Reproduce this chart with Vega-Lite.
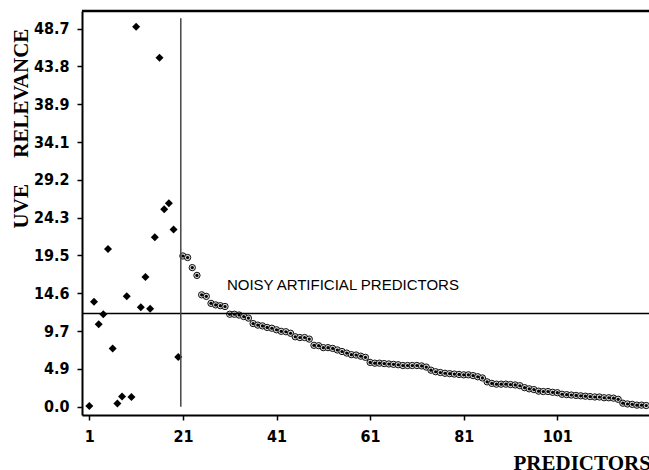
{
  "$schema": "https://vega.github.io/schema/vega-lite/v6.json",
  "width": 600,
  "height": 404,
  "autosize": {"type": "none"},
  "padding": {"left": 82, "top": 11, "right": 0, "bottom": 55},
  "background": "white",
  "config": {
    "view": {"stroke": null},
    "axis": {
      "grid": false,
      "domainColor": "black",
      "domainWidth": 2,
      "tickColor": "black",
      "tickWidth": 1.5,
      "tickSize": 5,
      "labelFont": "Liberation Sans Narrow, Arial Narrow, DejaVu Sans Condensed, Liberation Sans",
      "labelFontWeight": "bold",
      "labelFontSize": 16,
      "labelColor": "black",
      "titleFont": "Liberation Serif",
      "titleFontWeight": "bold",
      "titleFontSize": 21,
      "titleColor": "black"
    }
  },
  "datasets": {
    "pts": [
      {"predictor": 1, "relevance": 0.1, "group": "real"},
      {"predictor": 2, "relevance": 13.5, "group": "real"},
      {"predictor": 3, "relevance": 10.6, "group": "real"},
      {"predictor": 4, "relevance": 11.9, "group": "real"},
      {"predictor": 5, "relevance": 20.3, "group": "real"},
      {"predictor": 6, "relevance": 7.5, "group": "real"},
      {"predictor": 7, "relevance": 0.4, "group": "real"},
      {"predictor": 8, "relevance": 1.3, "group": "real"},
      {"predictor": 9, "relevance": 14.2, "group": "real"},
      {"predictor": 10, "relevance": 1.25, "group": "real"},
      {"predictor": 11, "relevance": 48.9, "group": "real"},
      {"predictor": 12, "relevance": 12.8, "group": "real"},
      {"predictor": 13, "relevance": 16.7, "group": "real"},
      {"predictor": 14, "relevance": 12.6, "group": "real"},
      {"predictor": 15, "relevance": 21.8, "group": "real"},
      {"predictor": 16, "relevance": 44.9, "group": "real"},
      {"predictor": 17, "relevance": 25.4, "group": "real"},
      {"predictor": 18, "relevance": 26.2, "group": "real"},
      {"predictor": 19, "relevance": 22.8, "group": "real"},
      {"predictor": 20, "relevance": 6.4, "group": "real"},
      {"predictor": 21, "relevance": 19.4, "group": "noise"},
      {"predictor": 22, "relevance": 19.2, "group": "noise"},
      {"predictor": 23, "relevance": 17.9, "group": "noise"},
      {"predictor": 24, "relevance": 16.9, "group": "noise"},
      {"predictor": 25, "relevance": 14.4, "group": "noise"},
      {"predictor": 26, "relevance": 14.2, "group": "noise"},
      {"predictor": 27, "relevance": 13.3, "group": "noise"},
      {"predictor": 28, "relevance": 13.1, "group": "noise"},
      {"predictor": 29, "relevance": 13.0, "group": "noise"},
      {"predictor": 30, "relevance": 12.9, "group": "noise"},
      {"predictor": 31, "relevance": 11.9, "group": "noise"},
      {"predictor": 32, "relevance": 11.9, "group": "noise"},
      {"predictor": 33, "relevance": 11.8, "group": "noise"},
      {"predictor": 34, "relevance": 11.6, "group": "noise"},
      {"predictor": 35, "relevance": 11.4, "group": "noise"},
      {"predictor": 36, "relevance": 10.7, "group": "noise"},
      {"predictor": 37, "relevance": 10.5, "group": "noise"},
      {"predictor": 38, "relevance": 10.4, "group": "noise"},
      {"predictor": 39, "relevance": 10.2, "group": "noise"},
      {"predictor": 40, "relevance": 10.1, "group": "noise"},
      {"predictor": 41, "relevance": 9.9, "group": "noise"},
      {"predictor": 42, "relevance": 9.7, "group": "noise"},
      {"predictor": 43, "relevance": 9.65, "group": "noise"},
      {"predictor": 44, "relevance": 9.45, "group": "noise"},
      {"predictor": 45, "relevance": 9.0, "group": "noise"},
      {"predictor": 46, "relevance": 8.9, "group": "noise"},
      {"predictor": 47, "relevance": 8.9, "group": "noise"},
      {"predictor": 48, "relevance": 8.7, "group": "noise"},
      {"predictor": 49, "relevance": 7.9, "group": "noise"},
      {"predictor": 50, "relevance": 7.85, "group": "noise"},
      {"predictor": 51, "relevance": 7.6, "group": "noise"},
      {"predictor": 52, "relevance": 7.6, "group": "noise"},
      {"predictor": 53, "relevance": 7.5, "group": "noise"},
      {"predictor": 54, "relevance": 7.3, "group": "noise"},
      {"predictor": 55, "relevance": 7.1, "group": "noise"},
      {"predictor": 56, "relevance": 6.9, "group": "noise"},
      {"predictor": 57, "relevance": 6.7, "group": "noise"},
      {"predictor": 58, "relevance": 6.65, "group": "noise"},
      {"predictor": 59, "relevance": 6.5, "group": "noise"},
      {"predictor": 60, "relevance": 6.35, "group": "noise"},
      {"predictor": 61, "relevance": 5.7, "group": "noise"},
      {"predictor": 62, "relevance": 5.6, "group": "noise"},
      {"predictor": 63, "relevance": 5.6, "group": "noise"},
      {"predictor": 64, "relevance": 5.55, "group": "noise"},
      {"predictor": 65, "relevance": 5.5, "group": "noise"},
      {"predictor": 66, "relevance": 5.45, "group": "noise"},
      {"predictor": 67, "relevance": 5.4, "group": "noise"},
      {"predictor": 68, "relevance": 5.3, "group": "noise"},
      {"predictor": 69, "relevance": 5.3, "group": "noise"},
      {"predictor": 70, "relevance": 5.3, "group": "noise"},
      {"predictor": 71, "relevance": 5.3, "group": "noise"},
      {"predictor": 72, "relevance": 5.25, "group": "noise"},
      {"predictor": 73, "relevance": 5.1, "group": "noise"},
      {"predictor": 74, "relevance": 4.7, "group": "noise"},
      {"predictor": 75, "relevance": 4.5, "group": "noise"},
      {"predictor": 76, "relevance": 4.4, "group": "noise"},
      {"predictor": 77, "relevance": 4.3, "group": "noise"},
      {"predictor": 78, "relevance": 4.25, "group": "noise"},
      {"predictor": 79, "relevance": 4.2, "group": "noise"},
      {"predictor": 80, "relevance": 4.15, "group": "noise"},
      {"predictor": 81, "relevance": 4.1, "group": "noise"},
      {"predictor": 82, "relevance": 4.1, "group": "noise"},
      {"predictor": 83, "relevance": 4.0, "group": "noise"},
      {"predictor": 84, "relevance": 3.85, "group": "noise"},
      {"predictor": 85, "relevance": 3.7, "group": "noise"},
      {"predictor": 86, "relevance": 3.2, "group": "noise"},
      {"predictor": 87, "relevance": 3.0, "group": "noise"},
      {"predictor": 88, "relevance": 2.9, "group": "noise"},
      {"predictor": 89, "relevance": 2.9, "group": "noise"},
      {"predictor": 90, "relevance": 2.9, "group": "noise"},
      {"predictor": 91, "relevance": 2.85, "group": "noise"},
      {"predictor": 92, "relevance": 2.8, "group": "noise"},
      {"predictor": 93, "relevance": 2.7, "group": "noise"},
      {"predictor": 94, "relevance": 2.45, "group": "noise"},
      {"predictor": 95, "relevance": 2.3, "group": "noise"},
      {"predictor": 96, "relevance": 2.2, "group": "noise"},
      {"predictor": 97, "relevance": 2.0, "group": "noise"},
      {"predictor": 98, "relevance": 1.95, "group": "noise"},
      {"predictor": 99, "relevance": 1.95, "group": "noise"},
      {"predictor": 100, "relevance": 1.85, "group": "noise"},
      {"predictor": 101, "relevance": 1.8, "group": "noise"},
      {"predictor": 102, "relevance": 1.6, "group": "noise"},
      {"predictor": 103, "relevance": 1.55, "group": "noise"},
      {"predictor": 104, "relevance": 1.5, "group": "noise"},
      {"predictor": 105, "relevance": 1.45, "group": "noise"},
      {"predictor": 106, "relevance": 1.4, "group": "noise"},
      {"predictor": 107, "relevance": 1.35, "group": "noise"},
      {"predictor": 108, "relevance": 1.3, "group": "noise"},
      {"predictor": 109, "relevance": 1.25, "group": "noise"},
      {"predictor": 110, "relevance": 1.25, "group": "noise"},
      {"predictor": 111, "relevance": 1.15, "group": "noise"},
      {"predictor": 112, "relevance": 1.15, "group": "noise"},
      {"predictor": 113, "relevance": 1.1, "group": "noise"},
      {"predictor": 114, "relevance": 0.95, "group": "noise"},
      {"predictor": 115, "relevance": 0.45, "group": "noise"},
      {"predictor": 116, "relevance": 0.35, "group": "noise"},
      {"predictor": 117, "relevance": 0.3, "group": "noise"},
      {"predictor": 118, "relevance": 0.2, "group": "noise"},
      {"predictor": 119, "relevance": 0.2, "group": "noise"},
      {"predictor": 120, "relevance": 0.15, "group": "noise"}
    ],
    "cutoff": [{"level": 12.0}],
    "frame": [{"top": 50.93}],
    "split": [{"at": 20.55, "lo": 0, "hi": 50}],
    "note": [{"px": 30.4, "py": 15.0, "label": "NOISY ARTIFICIAL PREDICTORS"}]
  },
  "layer": [
    {
      "data": {"name": "pts"},
      "transform": [{"filter": "datum.group === 'real'"}],
      "mark": {"type": "point", "shape": "diamond", "filled": true, "size": 64, "color": "black", "opacity": 1},
      "encoding": {
        "x": {
          "field": "predictor", "type": "quantitative",
          "scale": {"domain": [-0.56, 127.64], "nice": false, "zero": false},
          "axis": {
            "values": [1, 21, 41, 61, 81, 101],
            "labelPadding": 8,
            "labelFlush": false,
            "labelOverlap": false,
            "title": "PREDICTORS",
            "titleAnchor": null,
            "titleAlign": "left",
            "titleBaseline": "alphabetic",
            "titleX": 431,
            "titleY": 54
          }
        },
        "y": {
          "field": "relevance", "type": "quantitative",
          "scale": {"domain": [-1.07, 50.93], "nice": false, "zero": false},
          "axis": {
            "values": [0, 4.866, 9.732, 14.598, 19.464, 24.33, 29.196, 34.062, 38.928, 43.794, 48.66],
            "format": ".1f",
            "labelPadding": 8,
            "labelFlush": false,
            "labelOverlap": false,
            "title": "UVE\u00a0\u00a0\u00a0\u00a0 RELEVANCE",
            "titleAnchor": null,
            "titleAngle": -90,
            "titleAlign": "center",
            "titleBaseline": "alphabetic",
            "titleX": -55,
            "titleY": 117
          }
        }
      }
    },
    {
      "data": {"name": "pts"},
      "transform": [{"filter": "datum.group === 'noise'"}],
      "mark": {"type": "point", "shape": "circle", "filled": true, "size": 40, "fill": "#d8d8d8", "stroke": "#111111", "strokeWidth": 1, "opacity": 1},
      "encoding": {
        "x": {"field": "predictor", "type": "quantitative"},
        "y": {"field": "relevance", "type": "quantitative"}
      }
    },
    {
      "data": {"name": "pts"},
      "transform": [{"filter": "datum.group === 'noise'"}],
      "mark": {"type": "point", "shape": "circle", "filled": true, "size": 10, "color": "black", "opacity": 1},
      "encoding": {
        "x": {"field": "predictor", "type": "quantitative"},
        "y": {"field": "relevance", "type": "quantitative"}
      }
    },
    {
      "data": {"name": "cutoff"},
      "mark": {"type": "rule", "color": "black", "strokeWidth": 1.5},
      "encoding": {
        "y": {"field": "level", "type": "quantitative"}
      }
    },
    {
      "data": {"name": "frame"},
      "mark": {"type": "rule", "color": "black", "strokeWidth": 2.5},
      "encoding": {
        "y": {"field": "top", "type": "quantitative"}
      }
    },
    {
      "data": {"name": "split"},
      "mark": {"type": "rule", "color": "#444444", "strokeWidth": 1.5},
      "encoding": {
        "x": {"field": "at", "type": "quantitative"},
        "y": {"field": "lo", "type": "quantitative"},
        "y2": {"field": "hi"}
      }
    },
    {
      "data": {"name": "note"},
      "mark": {"type": "text", "align": "left", "baseline": "alphabetic", "font": "Liberation Sans", "fontSize": 15, "color": "black"},
      "encoding": {
        "x": {"field": "px", "type": "quantitative"},
        "y": {"field": "py", "type": "quantitative"},
        "text": {"field": "label"}
      }
    }
  ]
}
